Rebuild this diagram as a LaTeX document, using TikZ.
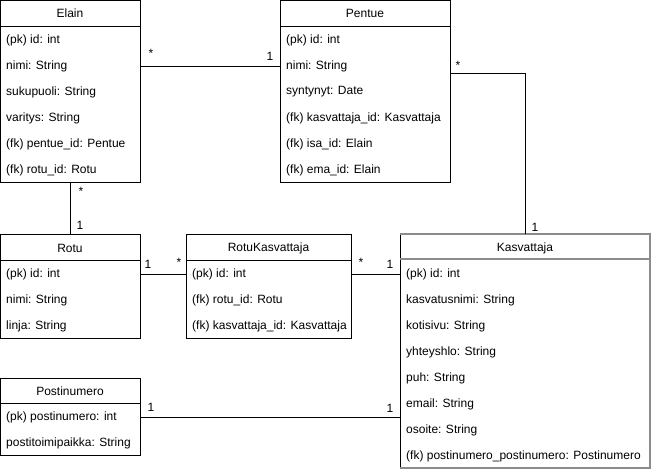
\documentclass[tikz,border=0pt]{standalone}
\usepackage{fontspec}
\setmainfont{Liberation Sans}
\begin{document}
\begin{tikzpicture}[x=1pt,y=-1pt,
  every node/.style={font=\fontsize{12}{14}\selectfont},
  entity/.style={draw, line width=1pt, anchor=north west, inner sep=0pt, fill=white},
  row/.style={anchor=west, inner sep=0pt},
  title/.style={inner sep=0pt},
  mult/.style={inner sep=0pt},
  conn/.style={line width=1pt},
  sep/.style={line width=1pt},
  graysep/.style={line width=1.6pt, draw=black!45}
]
\useasboundingbox (0,0) rectangle (651,471);

% Elain
\node[entity, minimum width=140pt, minimum height=182pt] (elain) at (0,0) {};
\draw[sep] (0,26) -- (140,26);
\node[title] (elainT) at (70,13) {Elain};
\node[row] (e1) at (6,40) {(pk) id: int};
\node[row] (e2) at (6,66) {nimi: String};
\node[row] (e3) at (6,92) {sukupuoli: String};
\node[row] (e4) at (6,118) {varitys: String};
\node[row] (e5) at (6,144) {(fk) pentue\_id: Pentue};
\node[row] (e6) at (6,170) {(fk) rotu\_id: Rotu};

% Pentue
\node[entity, minimum width=170pt, minimum height=182pt] (pentue) at (280,0) {};
\draw[sep] (280,26) -- (450,26);
\node[title] (pentueT) at (365,13) {Pentue};
\node[row] (p1) at (286,40) {(pk) id: int};
\node[row] (p2) at (286,66) {nimi: String};
\node[row] (p3) at (286,92) {syntynyt: Date};
\node[row] (p4) at (286,118) {(fk) kasvattaja\_id: Kasvattaja};
\node[row] (p5) at (286,144) {(fk) isa\_id: Elain};
\node[row] (p6) at (286,170) {(fk) ema\_id: Elain};

% Rotu
\node[entity, minimum width=140pt, minimum height=104pt] (rotu) at (0,234) {};
\draw[sep] (0,260) -- (140,260);
\node[title] (rotuT) at (70,248) {Rotu};
\node[row] (r1) at (6,274) {(pk) id: int};
\node[row] (r2) at (6,300) {nimi: String};
\node[row] (r3) at (6,326) {linja: String};

% RotuKasvattaja
\node[entity, minimum width=165pt, minimum height=104pt] (rk) at (186,234) {};
\draw[sep] (186,260) -- (351,260);
\node[title] (rkT) at (268.5,248) {RotuKasvattaja};
\node[row] (rk1) at (192,274) {(pk) id: int};
\node[row] (rk2) at (192,300) {(fk) rotu\_id: Rotu};
\node[row] (rk3) at (192,326) {(fk) kasvattaja\_id: Kasvattaja};

% Postinumero
\node[entity, minimum width=140pt, minimum height=77pt] (post) at (0,378) {};
\draw[sep] (0,403) -- (140,403);
\node[title] (postT) at (70,391) {Postinumero};
\node[row] (po1) at (6,417) {(pk) postinumero: int};
\node[row] (po2) at (6,443) {postitoimipaikka: String};

% Kasvattaja
\node[entity, minimum width=250pt, minimum height=234pt] (kasv) at (400,234) {};
\draw[graysep] (400,234) -- (650,234) -- (650,468) -- (400,468);
\draw[graysep] (400,259) -- (650,259);
\node[title] (kasvT) at (525,248) {Kasvattaja};
\node[row] (k1) at (406,274) {(pk) id: int};
\node[row] (k2) at (406,300) {kasvatusnimi: String};
\node[row] (k3) at (406,326) {kotisivu: String};
\node[row] (k4) at (406,352) {yhteyshlo: String};
\node[row] (k5) at (406,378) {puh: String};
\node[row] (k6) at (406,404) {email: String};
\node[row] (k7) at (406,430) {osoite: String};
\node[row] (k8) at (406,456) {(fk) postinumero\_postinumero: Postinumero};

% Connectors
\draw[conn] (e2 -| elain.east) -- (p2 -| pentue.west);
\draw[conn] (elain.south) -- (rotu.north);
\draw[conn] (pentue.north east) ++(0,73) -| (kasv.north);
\draw[conn] (r1 -| rotu.east) -- (rk1 -| rk.west);
\draw[conn] (rk1 -| rk.east) -- (k1 -| kasv.west);
\draw[conn] (po1 -| post.east) -- (po1 -| kasv.west);

% Multiplicities
\node[mult] (m1) at (151,53) {*};
\node[mult] (m2) at (270,56) {1};
\node[mult] (m3) at (81,191) {*};
\node[mult] (m4) at (80,225) {1};
\node[mult] (m5) at (458,65) {*};
\node[mult] (m6) at (535,227) {1};
\node[mult] (m7) at (148,264) {1};
\node[mult] (m8) at (179,262) {*};
\node[mult] (m9) at (361,262) {*};
\node[mult] (m10) at (390,264) {1};
\node[mult] (m11) at (151,407) {1};
\node[mult] (m12) at (390,408) {1};
\end{tikzpicture}
\end{document}
